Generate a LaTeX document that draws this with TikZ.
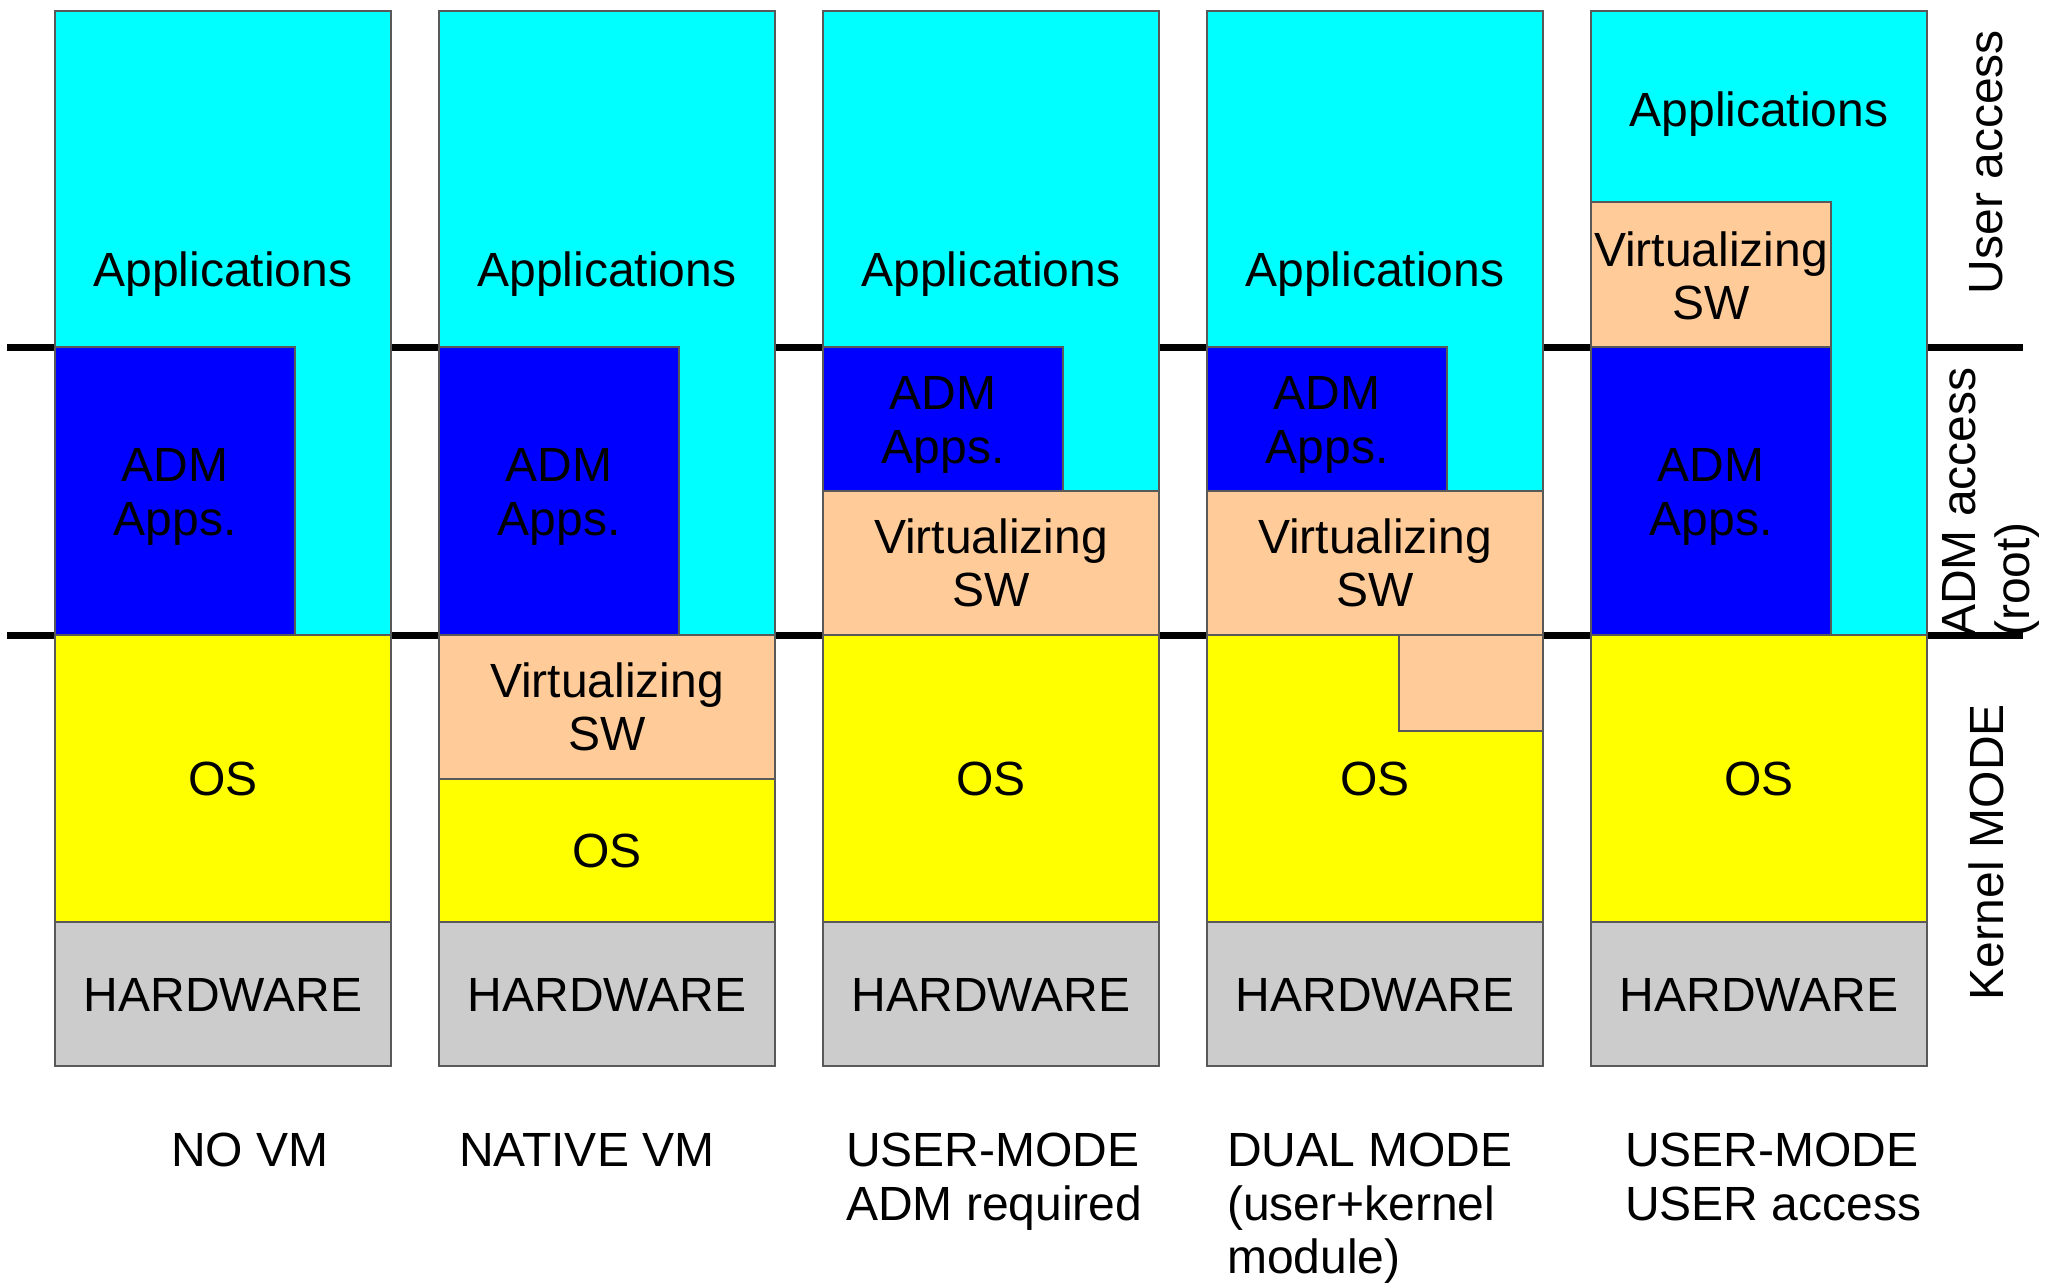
\documentclass[tikz,border=0pt]{standalone}
\usepackage{fontspec}
\setmainfont{Liberation Sans}
\definecolor{appcol}{RGB}{0,255,255}
\definecolor{admcol}{RGB}{0,0,255}
\definecolor{oscol}{RGB}{255,255,0}
\definecolor{virtcol}{RGB}{255,204,153}
\definecolor{hwcol}{RGB}{204,204,204}
\begin{document}
\begin{tikzpicture}[x=1pt,y=-1pt,
  blk/.style={draw=black!65,line width=1.2pt},
  appsbox/.style={blk,fill=appcol},
  admbox/.style={blk,fill=admcol},
  osbox/.style={blk,fill=oscol},
  virtbox/.style={blk,fill=virtcol},
  hwbox/.style={blk,fill=hwcol},
  lbl/.style={inner sep=0pt,align=center,font=\fontsize{48}{53.5}\selectfont},
  caption/.style={inner sep=0pt,align=left,anchor=north west,font=\fontsize{48}{53.5}\selectfont},
  level/.style={line width=7pt},
  side/.style={inner sep=0pt,rotate=90,font=\fontsize{48}{53.5}\selectfont}]
\useasboundingbox (0,0) rectangle (2046,1287);

% privilege boundaries
\coordinate (u1) at (7,347);   \coordinate (u2) at (2023,347);
\coordinate (k1) at (7,635);   \coordinate (k2) at (2023,635);
\draw[level] (u1) -- (u2);
\draw[level] (k1) -- (k2);

% NO VM
\fill[appsbox] (55,11) rectangle (391,635);
\fill[admbox] (55,347) rectangle (295,635);
\fill[osbox] (55,635) rectangle (391,922);
\fill[hwbox] (55,922) rectangle (391,1066);
\node[lbl] (a1) at (223,274) {Applications};
\node[lbl] (d1) at (175,497) {ADM\\Apps.};
\node[lbl] (o1) at (223,779) {OS};
\node[lbl] (h1) at (223,995) {HARDWARE};

% NATIVE VM
\fill[appsbox] (439,11) rectangle (775,635);
\fill[admbox] (439,347) rectangle (679,635);
\fill[virtbox] (439,635) rectangle (775,779);
\fill[osbox] (439,779) rectangle (775,922);
\fill[hwbox] (439,922) rectangle (775,1066);
\node[lbl] (a2) at (607,274) {Applications};
\node[lbl] (d2) at (559,497) {ADM\\Apps.};
\node[lbl] (v2) at (607,707) {Virtualizing\\SW};
\node[lbl] (o2) at (607,851) {OS};
\node[lbl] (h2) at (607,995) {HARDWARE};

% USER-MODE, ADM required
\fill[appsbox] (823,11) rectangle (1159,491);
\fill[admbox] (823,347) rectangle (1063,491);
\fill[virtbox] (823,491) rectangle (1159,635);
\fill[osbox] (823,635) rectangle (1159,922);
\fill[hwbox] (823,922) rectangle (1159,1066);
\node[lbl] (a3) at (991,274) {Applications};
\node[lbl] (d3) at (943,425) {ADM\\Apps.};
\node[lbl] (v3) at (991,563) {Virtualizing\\SW};
\node[lbl] (o3) at (991,779) {OS};
\node[lbl] (h3) at (991,995) {HARDWARE};

% DUAL MODE
\fill[appsbox] (1207,11) rectangle (1543,491);
\fill[admbox] (1207,347) rectangle (1447,491);
\fill[virtbox] (1207,491) rectangle (1543,635);
\fill[osbox] (1207,635) rectangle (1543,922);
\fill[virtbox] (1399,635) rectangle (1543,731);
\fill[hwbox] (1207,922) rectangle (1543,1066);
\node[lbl] (a4) at (1375,274) {Applications};
\node[lbl] (d4) at (1327,425) {ADM\\Apps.};
\node[lbl] (v4) at (1375,563) {Virtualizing\\SW};
\node[lbl] (o4) at (1375,779) {OS};
\node[lbl] (h4) at (1375,995) {HARDWARE};

% USER-MODE, USER access
\fill[appsbox] (1591,11) rectangle (1927,635);
\fill[virtbox] (1591,202) rectangle (1831,347);
\fill[admbox] (1591,347) rectangle (1831,635);
\fill[osbox] (1591,635) rectangle (1927,922);
\fill[hwbox] (1591,922) rectangle (1927,1066);
\node[lbl] (a5) at (1759,114) {Applications};
\node[lbl] (v5) at (1711,276) {Virtualizing\\SW};
\node[lbl] (d5) at (1711,497) {ADM\\Apps.};
\node[lbl] (o5) at (1759,779) {OS};
\node[lbl] (h5) at (1759,995) {HARDWARE};

% captions
\node[caption] (c1) at (171,1133) {NO VM};
\node[caption] (c2) at (459,1133) {NATIVE VM};
\node[caption] (c3) at (846,1133) {USER-MODE\\ADM required};
\node[caption] (c4) at (1227,1133) {DUAL MODE\\(user+kernel\\module)};
\node[caption] (c5) at (1625,1133) {USER-MODE\\USER access};

% access levels
\node[side] (s1) at (1986,162) {User access};
\node[side,align=left,anchor=west] (s2) at (1991,637) {ADM access\\(root)};
\node[side] (s3) at (1986,852) {Kernel MODE};
\end{tikzpicture}
\end{document}
